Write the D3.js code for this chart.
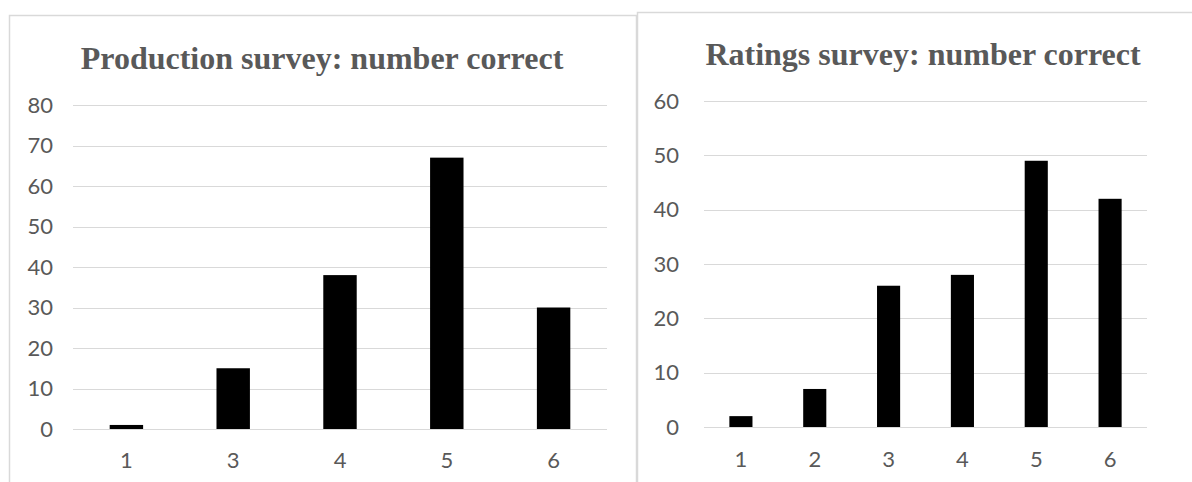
<!DOCTYPE html>
<html>
<head>
<meta charset="utf-8">
<script src="https://cdn.jsdelivr.net/npm/d3@7"></script>
<style>
  html, body { margin: 0; padding: 0; background: #fff; }
  svg { display: block; }
</style>
</head>
<body>
<svg id="chart" width="1192" height="482"></svg>
<script>
// Production survey: count of respondents by number of correct answers
const prodCategories = ["1", "3", "4", "5", "6"];
const prodValues = [1, 15, 38, 67, 30];
const prodTicks = [0, 10, 20, 30, 40, 50, 60, 70, 80];

// Ratings survey: count of respondents by number of correct answers
const ratCategories = ["1", "2", "3", "4", "5", "6"];
const ratValues = [2, 7, 26, 28, 49, 42];
const ratTicks = [0, 10, 20, 30, 40, 50, 60];

const svg = d3.select("#chart");
const GRID = "#d9d9d9";
const TEXT = "#595959";
const LABEL_FONT = "Lato, 'Open Sans', sans-serif";

function drawPanel(cfg) {
  const g = svg.append("g");

  // panel frame
  g.append("rect")
    .attr("x", cfg.frame.x + 0.5).attr("y", cfg.frame.y + 0.5)
    .attr("width", cfg.frame.w).attr("height", cfg.frame.h)
    .attr("fill", "#fff").attr("stroke", GRID).attr("stroke-width", 1.5);

  // title
  g.append("text")
    .attr("x", cfg.titleX).attr("y", cfg.titleY)
    .attr("text-anchor", "middle")
    .attr("font-family", "'Liberation Serif', 'Times New Roman', serif")
    .attr("font-weight", "bold").attr("font-size", 32)
    .attr("fill", TEXT)
    .text(cfg.title);

  const x = d3.scaleBand()
    .domain(cfg.categories)
    .range([cfg.left, cfg.right])
    .paddingInner(0.687).paddingOuter(0.3435);

  const y = d3.scaleLinear()
    .domain([0, d3.max(cfg.ticks)])
    .range([cfg.bottom, cfg.top]);

  // horizontal gridlines
  g.append("g").selectAll("line")
    .data(cfg.ticks)
    .join("line")
    .attr("x1", cfg.left).attr("x2", cfg.right)
    .attr("y1", d => Math.round(y(d)) + 0.5).attr("y2", d => Math.round(y(d)) + 0.5)
    .attr("stroke", GRID).attr("stroke-width", 1.2);

  // y tick labels
  const yAxis = d3.axisLeft(y).tickValues(cfg.ticks).tickSize(0).tickPadding(0);
  const ya = g.append("g")
    .attr("transform", `translate(${cfg.yLabelX},0)`)
    .call(yAxis);
  ya.select(".domain").remove();
  ya.selectAll("text")
    .attr("font-family", LABEL_FONT)
    .attr("font-size", 22).attr("fill", TEXT);

  // bars
  g.append("g").selectAll("rect")
    .data(cfg.values)
    .join("rect")
    .attr("x", (d, i) => x(cfg.categories[i]))
    .attr("width", x.bandwidth())
    .attr("y", d => y(d))
    .attr("height", d => y(0) - y(d))
    .attr("fill", "#000");

  // x axis
  const xAxis = d3.axisBottom(x).tickSize(0).tickPadding(0);
  const xa = g.append("g")
    .attr("transform", `translate(0,${cfg.bottom})`)
    .call(xAxis);
  xa.select(".domain").attr("stroke", GRID).attr("stroke-width", 1.2)
    .attr("d", `M${cfg.left},0.5H${cfg.right}`);
  xa.selectAll("text")
    .attr("y", cfg.xLabelDy)
    .attr("dy", "0.32em")
    .attr("font-family", LABEL_FONT)
    .attr("font-size", 22).attr("fill", TEXT);
}

drawPanel({
  frame: { x: 9, y: 15, w: 627, h: 480 },
  title: "Production survey: number correct",
  titleX: 322, titleY: 69,
  categories: prodCategories, values: prodValues, ticks: prodTicks,
  left: 73, right: 607, top: 105, bottom: 429,
  yLabelX: 53, xLabelDy: 32
});

drawPanel({
  frame: { x: 637, y: 12, w: 580, h: 480 },
  title: "Ratings survey: number correct",
  titleX: 923, titleY: 65,
  categories: ratCategories, values: ratValues, ticks: ratTicks,
  left: 704, right: 1147, top: 101, bottom: 427,
  yLabelX: 679, xLabelDy: 33
});
</script>
</body>
</html>
